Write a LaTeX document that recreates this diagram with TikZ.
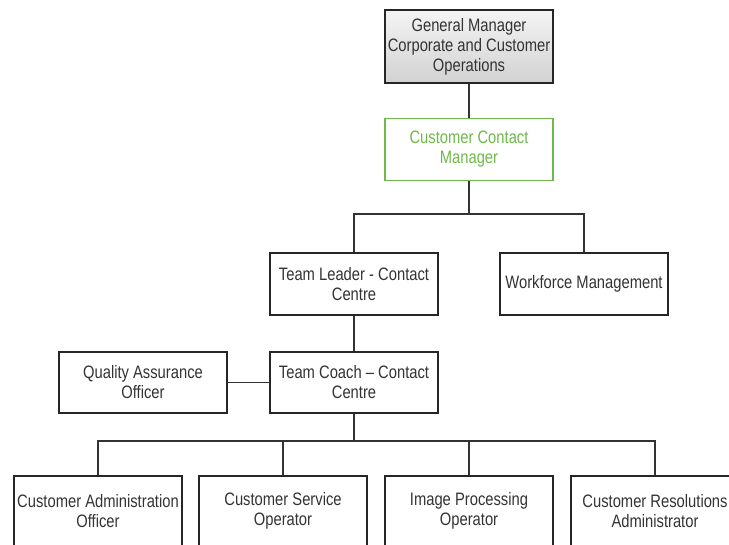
\documentclass[tikz,border=0pt]{standalone}
\usepackage{fontspec}
\setmainfont[FakeStretch=0.82]{Liberation Sans}
\definecolor{cgreen}{HTML}{6FB84A}
\definecolor{ctext}{HTML}{333333}
\definecolor{gtop}{HTML}{F4F4F4}
\definecolor{gbot}{HTML}{D2D2D2}
\begin{document}
\begin{tikzpicture}[x=1pt,y=-1pt,
  box/.style={draw=black!85, line width=1.3pt, rectangle, minimum width=168pt, minimum height=62pt,
    align=center, text=ctext, inner sep=2pt,
    font=\fontsize{18}{20}\selectfont},
  conn/.style={draw=black!80, line width=1.2pt}]
\useasboundingbox (0,0) rectangle (729,545);
\node[box, minimum height=73pt, top color=gtop, bottom color=gbot, line width=1.6pt] (gm) at (469,46.5)
  {General Manager\\Corporate and Customer\\Operations};
\node[box, draw=cgreen, text=cgreen] (ccm) at (469,149.5) {Customer Contact\\Manager};
\node[box] (tl) at (354,284) {Team Leader - Contact\\Centre};
\node[box] (wm) at (584,284) {Workforce Management};
\node[box, minimum height=61pt] (tc) at (354,382.5) {Team Coach – Contact\\Centre};
\node[box, minimum height=61pt] (qa) at (143,382.5) {Quality Assurance\\Officer};
\node[box, minimum height=70pt] (b1) at (98,511) {Customer Administration\\Officer};
\node[box, minimum height=70pt] (b2) at (283,511) {Customer Service\\Operator};
\node[box, minimum height=70pt] (b3) at (469,511) {Image Processing\\Operator};
\node[box, minimum height=70pt] (b4) at (655,511) {Customer Resolutions\\Administrator};
\coordinate (bus1) at (469,214);
\coordinate (bus2) at (354,441);
\draw[conn] (gm.south) -- (ccm.north);
\draw[conn] (ccm.south) -- (bus1);
\draw[conn] (tl.north) |- (bus1) -| (wm.north);
\draw[conn] (tl.south) -- (tc.north);
\draw[conn] (qa.east) -- (tc.west);
\draw[conn] (tc.south) -- (bus2);
\draw[conn] (b1.north) |- (bus2) -| (b4.north);
\draw[conn] (b2.north) -- (b2.north |- bus2);
\draw[conn] (b3.north) -- (b3.north |- bus2);
\end{tikzpicture}
\end{document}
